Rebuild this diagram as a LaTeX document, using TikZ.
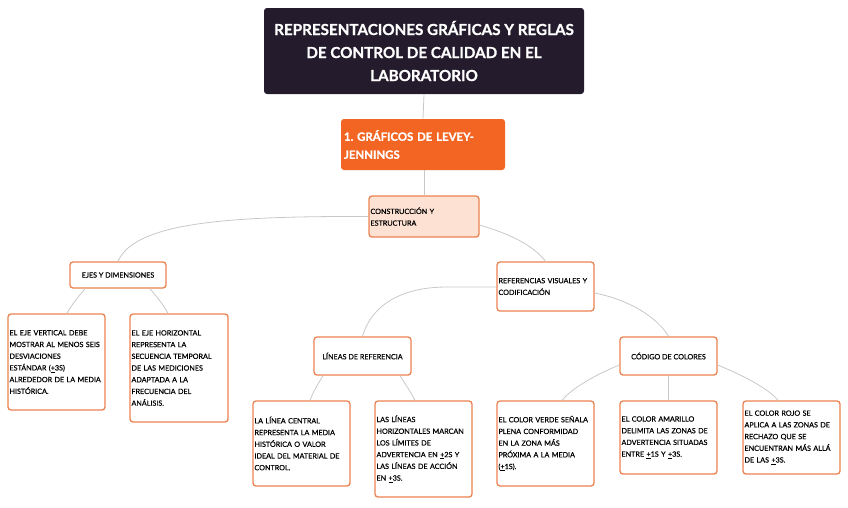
\documentclass[tikz,border=0pt]{standalone}
\usepackage{fontspec}
\setmainfont{Lato}
\newfontfamily\medfont{Lato}[FakeBold=0.35]
\newfontfamily\heavyfont{Lato Bold}[FakeBold=0.9]
\frenchspacing
\definecolor{titlebg}{RGB}{36,28,44}
\definecolor{orangebg}{RGB}{242,101,34}
\definecolor{peach}{RGB}{253,226,212}
\definecolor{bordor}{RGB}{235,130,80}
\definecolor{conn}{RGB}{200,200,200}
\tikzset{
  box/.style={draw=bordor, line width=1.3pt, rounded corners=3pt, fill=white,
    inner xsep=1.5pt, inner ysep=0pt, align=left, font=\medfont\fontsize{7.2}{11.7}\selectfont,
    text=black},
  cbox/.style={box, align=center},
  link/.style={draw=conn, line width=0.8pt},
}
\begin{document}
\begin{tikzpicture}[x=1pt,y=-1pt]
\useasboundingbox (0,0) rectangle (848,507);
% title
\node[fill=titlebg, rounded corners=3pt, minimum width=320pt, minimum height=86pt,
  align=center, text=white, font=\heavyfont\fontsize{15.2}{23}\selectfont]
  (title) at (424,51) {REPRESENTACIONES GRÁFICAS Y REGLAS\\DE CONTROL DE CALIDAD EN EL\\LABORATORIO};
\node[fill=orangebg, rounded corners=3pt, minimum width=164pt, minimum height=51pt,
  text width=158pt, inner xsep=3pt, align=left, text=white, font=\heavyfont\fontsize{11.4}{18}\selectfont]
  (lj) at (423,144.5) {1. GRÁFICOS DE LEVEY-\\JENNINGS};
\node[box, fill=peach, minimum width=110pt, minimum height=41pt, text width=107pt]
  (cons) at (424,216.5) {CONSTRUCCIÓN Y\\ESTRUCTURA};
\node[cbox, minimum width=96pt, minimum height=26pt] (ejes) at (118,275) {EJES Y DIMENSIONES};
\node[box, minimum width=97pt, minimum height=49pt, text width=94pt] (ref) at (545.5,286.5)
  {\mbox{REFERENCIAS VISUALES Y}\\CODIFICACIÓN};
\node[box, minimum width=97pt, minimum height=96pt, text width=94pt] (ev) at (56.5,362)
  {EL EJE VERTICAL DEBE\\\mbox{MOSTRAR AL MENOS SEIS}\\DESVIACIONES\\ESTÁNDAR (\underline{+}3S)\\\mbox{ALREDEDOR DE LA MEDIA}\\HISTÓRICA.};
\node[box, minimum width=98pt, minimum height=108pt, text width=95pt] (eh) at (179,368)
  {EL EJE HORIZONTAL\\REPRESENTA LA\\SECUENCIA TEMPORAL\\DE LAS MEDICIONES\\ADAPTADA A LA\\FRECUENCIA DEL\\ANÁLISIS.};
\node[cbox, minimum width=97pt, minimum height=38pt] (lin) at (362.5,356) {LÍNEAS DE REFERENCIA};
\node[cbox, minimum width=97pt, minimum height=38pt] (cod) at (668.5,356) {CÓDIGO DE COLORES};
\node[box, minimum width=97pt, minimum height=85pt, text width=94pt] (lc) at (301.5,443.5)
  {LA LÍNEA CENTRAL\\REPRESENTA LA MEDIA\\HISTÓRICA O VALOR\\\mbox{IDEAL DEL MATERIAL DE}\\CONTROL.};
\node[box, minimum width=97pt, minimum height=96pt, text width=94pt] (ll) at (423.5,449)
  {LAS LÍNEAS\\\mbox{HORIZONTALES MARCAN}\\LOS LÍMITES DE\\\mbox{ADVERTENCIA EN \underline{+}2S Y}\\\mbox{LAS LÍNEAS DE ACCIÓN}\\EN \underline{+}3S.};
\node[box, minimum width=97pt, minimum height=85pt, text width=94pt] (ve) at (545.5,443.5)
  {\mbox{EL COLOR VERDE SEÑALA}\\PLENA CONFORMIDAD\\EN LA ZONA MÁS\\PRÓXIMA A LA MEDIA\\(\underline{+}1S).};
\node[box, minimum width=97pt, minimum height=73pt, text width=94pt] (am) at (668.5,437.5)
  {EL COLOR AMARILLO\\\mbox{DELIMITA LAS ZONAS DE}\\\mbox{ADVERTENCIA SITUADAS}\\ENTRE \underline{+}1S Y \underline{+}3S.};
\node[box, minimum width=97pt, minimum height=73pt, text width=94pt] (ro) at (791.5,437.5)
  {EL COLOR ROJO SE\\\mbox{APLICA A LAS ZONAS DE}\\RECHAZO QUE SE\\\mbox{ENCUENTRAN MÁS ALLÁ}\\DE LAS \underline{+}3S.};
% connectors
\path[link] (title.south) -- (lj.north);
\path[link] (lj.south -| cons.north) -- (cons.north);
\path[link] (cons.west) .. controls (230,216) and (135,222) .. (ejes.north);
\path[link] (cons.east |- 0,225) .. controls (510,234) and (533,245) .. (ref.north);
\path[link] (ejes.south -| 85,0) .. controls (79,296) and (72,304) .. (ev.north -| 67,0);
\path[link] (ejes.south -| 150,0) .. controls (156,296) and (163,304) .. (eh.north -| 168,0);
\path[link] (ref.west |- 0,287) -- (447,287) .. controls (395,287) and (370,310) .. (lin.north);
\path[link] (ref.east |- 0,293) .. controls (630,300) and (658,318) .. (cod.north);
\path[link] (lin.south -| 323,0) .. controls (318,384) and (313,392) .. (lc.north -| 310,0);
\path[link] (lin.south -| 400,0) .. controls (405,384) and (411,392) .. (ll.north -| 415,0);
\path[link] (cod.west |- 0,365) .. controls (595,375) and (572,388) .. (ve.north -| 562,0);
\path[link] (cod.south) -- (am.north);
\path[link] (cod.east |- 0,365) .. controls (742,375) and (768,388) .. (ro.north -| 778,0);
\end{tikzpicture}
\end{document}
